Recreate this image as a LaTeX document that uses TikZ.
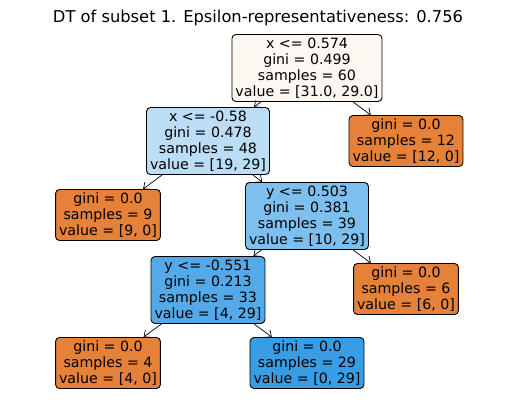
\documentclass[tikz,border=0pt]{standalone}
\usepackage{fontspec}
\setmainfont{DejaVu Sans}
\usetikzlibrary{arrows.meta}
\definecolor{rootfill}{RGB}{253,247,242}
\definecolor{orangefill}{RGB}{229,129,57}
\definecolor{bluefill}{RGB}{57,157,229}
\definecolor{paleblue}{RGB}{187,221,246}
\definecolor{midblue}{RGB}{125,191,238}
\definecolor{deepblue}{RGB}{84,170,233}
\begin{document}
\begin{tikzpicture}[x=1pt, y=-1pt, every node/.style={font=\fontsize{14.2}{16.2}\selectfont}]
  \tikzstyle{box}=[draw=black, rounded corners=4pt, line width=0.9pt, align=center, inner xsep=3.5pt, inner ysep=3pt]
  \tikzstyle{edge}=[-{Straight Barb[length=5pt,width=9pt]}, line width=0.7pt]
  \useasboundingbox (0,0) rectangle (515,411);
  \node (title) at (258,18) {\fontsize{16.3}{18}\selectfont DT of subset 1. Epsilon-representativeness: 0.756};
  \node[box, fill=rootfill] (root) at (307,68) {x <= 0.574\\gini = 0.499\\samples = 60\\value = [31.0, 29.0]};
  \node[box, fill=paleblue] (xl) at (208,141) {x <= -0.58\\gini = 0.478\\samples = 48\\value = [19, 29]};
  \node[box, fill=orangefill] (xr) at (406,141) {gini = 0.0\\samples = 12\\value = [12, 0]};
  \node[box, fill=orangefill] (xll) at (108,215) {gini = 0.0\\samples = 9\\value = [9, 0]};
  \node[box, fill=midblue] (xlr) at (307,216) {y <= 0.503\\gini = 0.381\\samples = 39\\value = [10, 29]};
  \node[box, fill=deepblue] (ylo) at (208,290) {y <= -0.551\\gini = 0.213\\samples = 33\\value = [4, 29]};
  \node[box, fill=orangefill] (yhi) at (406,289) {gini = 0.0\\samples = 6\\value = [6, 0]};
  \node[box, fill=orangefill] (ylol) at (108,363) {gini = 0.0\\samples = 4\\value = [4, 0]};
  \node[box, fill=bluefill] (ylor) at (307,363) {gini = 0.0\\samples = 29\\value = [0, 29]};
  \draw[edge] (root) -- (xl); \draw[edge] (root) -- (xr);
  \draw[edge] (xl) -- (xll); \draw[edge] (xl) -- (xlr);
  \draw[edge] (xlr) -- (ylo); \draw[edge] (xlr) -- (yhi);
  \draw[edge] (ylo) -- (ylol); \draw[edge] (ylo) -- (ylor);
\end{tikzpicture}
\end{document}
